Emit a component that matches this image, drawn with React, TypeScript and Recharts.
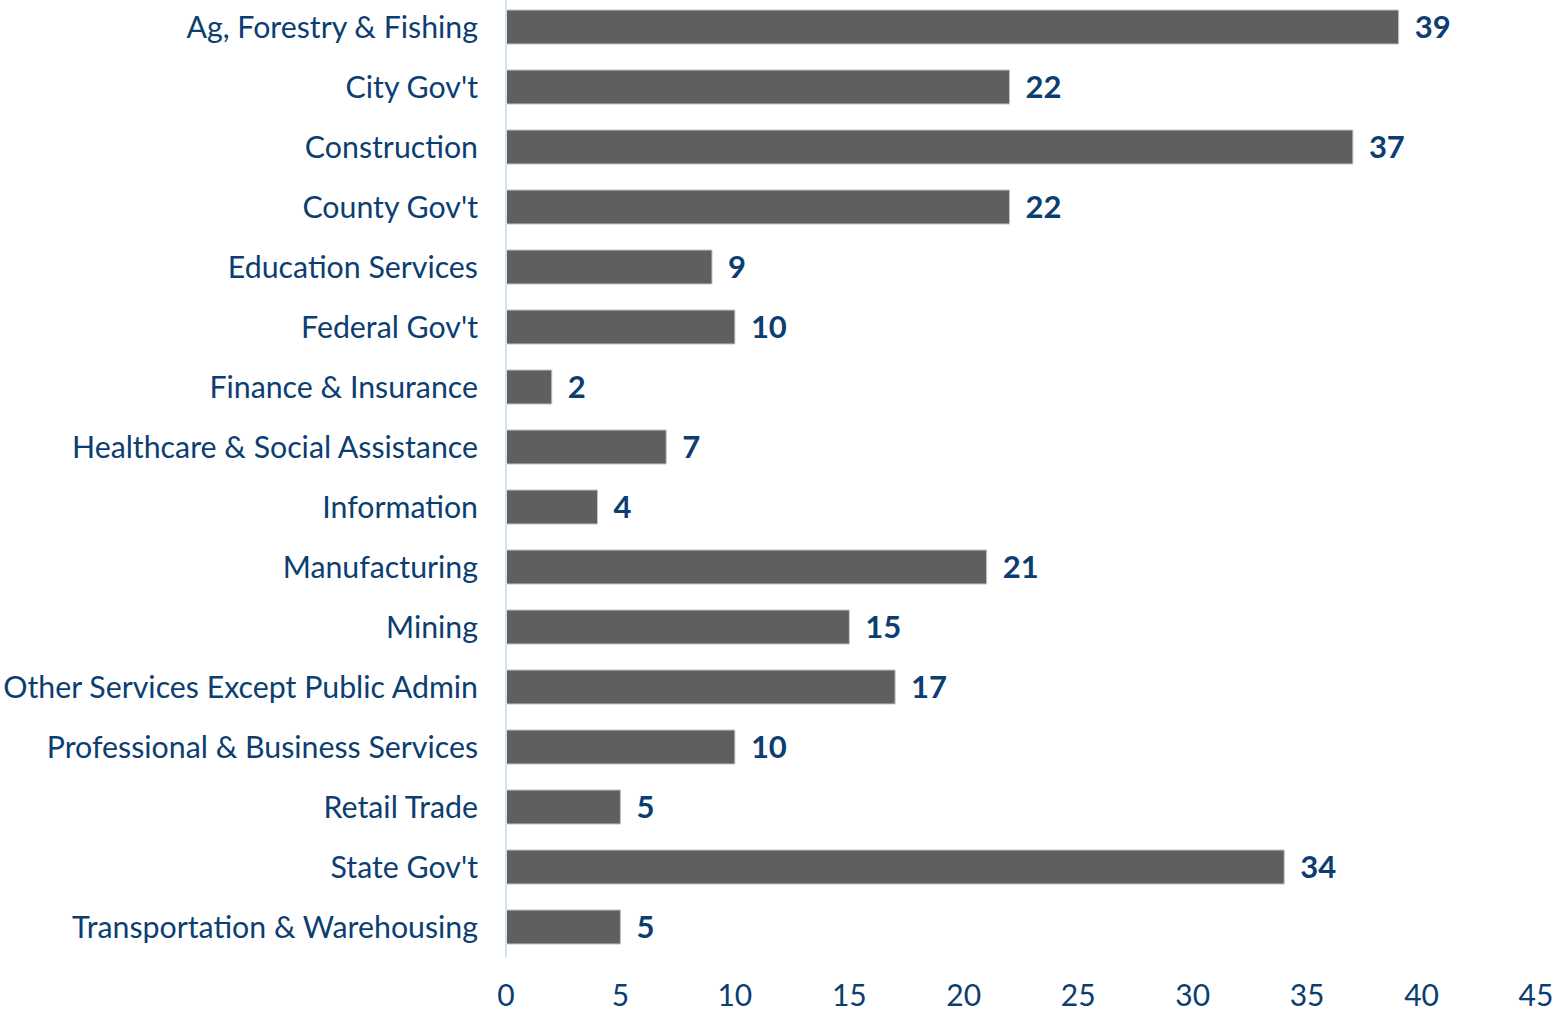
import { Bar, BarChart, LabelList, XAxis, YAxis } from "recharts";

const categories = [
  "Ag, Forestry & Fishing",
  "City Gov't",
  "Construction",
  "County Gov't",
  "Education Services",
  "Federal Gov't",
  "Finance & Insurance",
  "Healthcare & Social Assistance",
  "Information",
  "Manufacturing",
  "Mining",
  "Other Services Except Public Admin",
  "Professional & Business Services",
  "Retail Trade",
  "State Gov't",
  "Transportation & Warehousing",
];

const counts = [39, 22, 37, 22, 9, 10, 2, 7, 4, 21, 15, 17, 10, 5, 34, 5];

const xTicks = [0, 5, 10, 15, 20, 25, 30, 35, 40, 45];

const data = categories.map((name, i) => ({ name, value: counts[i] }));

const TEXT = "#0c3e72";
const FONT = "Lato, 'Noto Sans', sans-serif";

export default function App() {
  return (
    <div style={{ position: "absolute", left: 0, top: 0, background: "#fff" }}>
      <BarChart
        width={1559}
        height={1011}
        data={data}
        layout="vertical"
        margin={{ top: -3, right: 23, bottom: 0, left: 0 }}
        barSize={34}
      >
        <XAxis
          type="number"
          domain={[0, 45]}
          ticks={xTicks}
          axisLine={false}
          tickLine={false}
          tickSize={0}
          tickMargin={28}
          height={54}
          tick={{ fill: TEXT, fontSize: 30, fontFamily: FONT }}
        />
        <YAxis
          type="category"
          dataKey="name"
          width={506}
          axisLine={{ stroke: "#cfe3f5", strokeWidth: 2 }}
          tickLine={false}
          tickSize={0}
          tickMargin={28}
          interval={0}
          tick={{ fill: TEXT, fontSize: 30.3, fontFamily: FONT }}
        />
        <Bar
          dataKey="value"
          fill="#5f5f5f"
          stroke="#c4c4c4"
          strokeWidth={1}
          isAnimationActive={false}
        >
          <LabelList
            dataKey="value"
            position="right"
            offset={16}
            fill={TEXT}
            fontSize={31}
            fontWeight={700}
            fontFamily={FONT}
          />
        </Bar>
      </BarChart>
    </div>
  );
}
